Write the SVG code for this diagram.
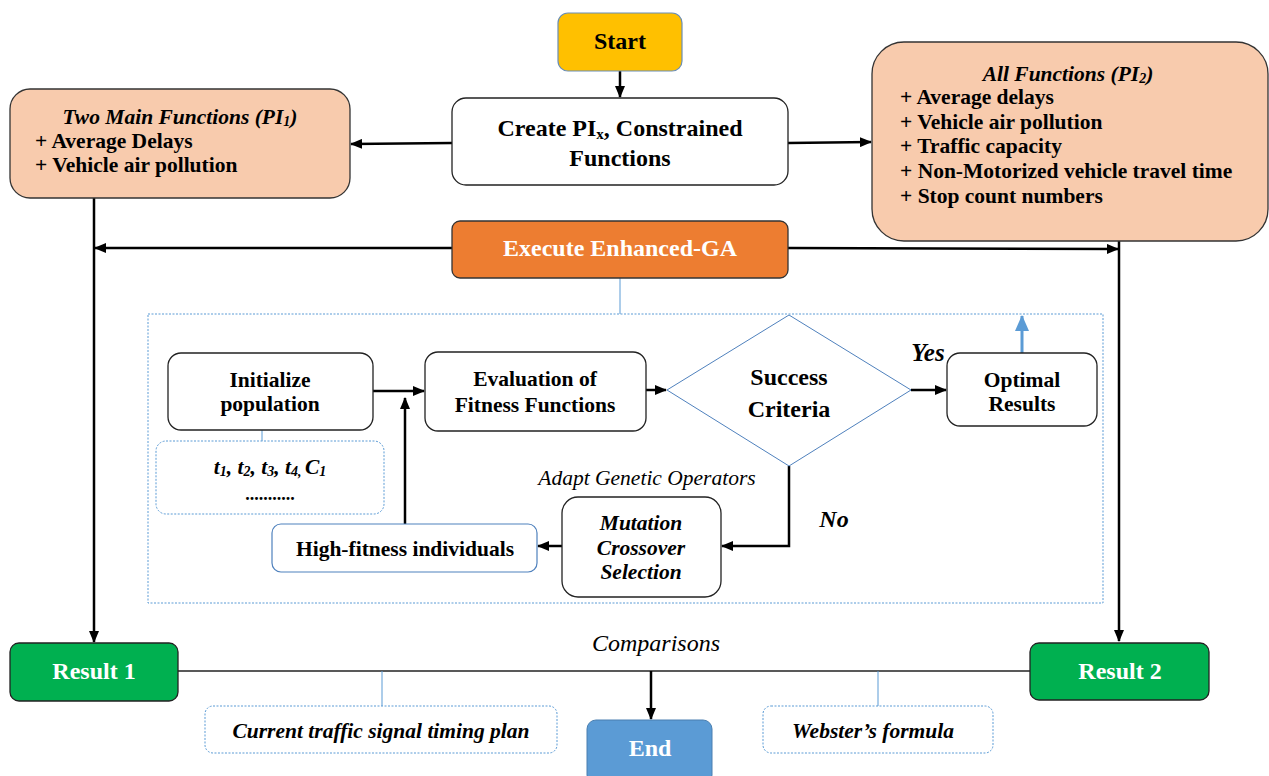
<svg xmlns="http://www.w3.org/2000/svg" width="1269" height="776" viewBox="0 0 1269 776">
<style>
.box{fill:#fff;stroke:#222;stroke-width:1.3}
.peach{fill:#F8CBAD;stroke:#333;stroke-width:1.3}
.dot{fill:#fff;stroke:#5B9BD5;stroke-width:1;stroke-dasharray:2 1.5}
.c{fill:none;stroke:#000;stroke-width:2.5}
.thin{fill:none;stroke:#5B9BD5;stroke-width:1}
</style>
<defs>
<marker id="ah" markerUnits="userSpaceOnUse" markerWidth="12" markerHeight="10" refX="11" refY="5" orient="auto">
<path d="M0,0 L12,5 L0,10 z" fill="#000"/>
</marker>
<marker id="ahb" markerUnits="userSpaceOnUse" markerWidth="16" markerHeight="14" refX="15" refY="7" orient="auto">
<path d="M0,0 L16,7 L0,14 z" fill="#5B9BD5"/>
</marker>
</defs>
<rect width="1269" height="776" fill="#fff"/>

<g id="connectors">
<line class="c" x1="620" y1="71" x2="620" y2="97" marker-end="url(#ah)"/>
<line class="c" x1="452" y1="143" x2="351" y2="144" marker-end="url(#ah)"/>
<line class="c" x1="788" y1="143" x2="871" y2="142" marker-end="url(#ah)"/>
<line class="c" x1="452" y1="248" x2="95" y2="248" marker-end="url(#ah)"/>
<line class="c" x1="788" y1="248" x2="1118" y2="249" marker-end="url(#ah)"/>
<line class="c" x1="94" y1="198" x2="94" y2="642" marker-end="url(#ah)"/>
<line class="c" x1="1119" y1="241" x2="1119" y2="641" marker-end="url(#ah)"/>
<line class="thin" x1="620" y1="278" x2="620" y2="314"/>
<line class="c" x1="373" y1="391" x2="424" y2="391" marker-end="url(#ah)"/>
<line class="c" x1="405" y1="524" x2="405" y2="398" marker-end="url(#ah)"/>
<line class="c" x1="646" y1="390" x2="666" y2="390" marker-end="url(#ah)"/>
<line class="c" x1="911" y1="390" x2="946" y2="390" marker-end="url(#ah)"/>
<polyline class="c" points="789,466 789,546 722,546" marker-end="url(#ah)"/>
<line class="c" x1="562" y1="546" x2="538" y2="546" marker-end="url(#ah)"/>
<line x1="1022" y1="353" x2="1022" y2="316" stroke="#5B9BD5" stroke-width="3" marker-end="url(#ahb)"/>
<line class="thin" x1="262" y1="430" x2="262" y2="441"/>
<line x1="178" y1="671" x2="1030" y2="671" stroke="#222" stroke-width="1.6"/>
<line class="c" x1="651" y1="671" x2="651" y2="719" marker-end="url(#ah)"/>
<line class="thin" x1="382" y1="671" x2="382" y2="706"/>
<line class="thin" x1="878" y1="671" x2="878" y2="706"/>
</g>

<g id="start">
<rect x="558" y="13" width="124" height="58" rx="10" fill="#FFC000" stroke="#6B8EB5" stroke-width="1.2"/>
<text font-family="Liberation Serif" font-weight="bold" x="620" y="49" text-anchor="middle" font-size="24">Start</text>
</g>

<g id="create">
<rect class="box" x="452" y="98" width="336" height="87" rx="14"/>
<text font-family="Liberation Serif" font-weight="bold" x="620" y="136" text-anchor="middle" font-size="24">Create PI<tspan font-size="15" dy="3">x</tspan><tspan dy="-3">, Constrained</tspan></text>
<text font-family="Liberation Serif" font-weight="bold" x="620" y="166" text-anchor="middle" font-size="24">Functions</text>
</g>

<g id="pi1">
<rect class="peach" x="10" y="89" width="340" height="109" rx="20"/>
<text font-family="Liberation Serif" font-weight="bold" font-style="italic" x="180" y="124" text-anchor="middle" font-size="21.5">Two Main Functions (PI<tspan font-size="14" dy="2">1</tspan><tspan dy="-2">)</tspan></text>
<text font-family="Liberation Serif" font-weight="bold" x="35" y="148" font-size="21.5">+ Average Delays</text>
<text font-family="Liberation Serif" font-weight="bold" x="35" y="172" font-size="21.5">+ Vehicle air pollution</text>
</g>

<g id="pi2">
<rect class="peach" x="872" y="42" width="396" height="199" rx="32"/>
<text font-family="Liberation Serif" font-weight="bold" font-style="italic" x="1068" y="81" text-anchor="middle" font-size="21.5">All Functions (PI<tspan font-size="14" dy="2">2</tspan><tspan dy="-2">)</tspan></text>
<text font-family="Liberation Serif" font-weight="bold" x="900" y="104" font-size="21.5">+ Average delays</text>
<text font-family="Liberation Serif" font-weight="bold" x="900" y="129" font-size="21.5">+ Vehicle air pollution</text>
<text font-family="Liberation Serif" font-weight="bold" x="900" y="153" font-size="21.5">+ Traffic capacity</text>
<text font-family="Liberation Serif" font-weight="bold" x="900" y="178" font-size="21.5">+ Non-Motorized vehicle travel time</text>
<text font-family="Liberation Serif" font-weight="bold" x="900" y="203" font-size="21.5">+ Stop count numbers</text>
</g>

<g id="execute">
<rect x="452" y="221" width="336" height="57" rx="8" fill="#ED7D31" stroke="#333" stroke-width="1.3"/>
<text font-family="Liberation Serif" font-weight="bold" fill="#fff" x="620" y="256" text-anchor="middle" font-size="24">Execute Enhanced-GA</text>
</g>

<g id="ga-frame">
<rect x="148" y="314" width="955" height="289" fill="none" stroke="#5B9BD5" stroke-width="1" stroke-dasharray="2 1.5"/>
</g>

<g id="initialize">
<rect class="box" x="168" y="353" width="205" height="77" rx="13"/>
<text font-family="Liberation Serif" font-weight="bold" x="270" y="387" text-anchor="middle" font-size="21.5">Initialize</text>
<text font-family="Liberation Serif" font-weight="bold" x="270" y="411" text-anchor="middle" font-size="21.5">population</text>
</g>

<g id="params">
<rect class="dot" x="156" y="441" width="228" height="73" rx="10"/>
<text font-family="Liberation Serif" font-weight="bold" font-style="italic" x="270" y="474" text-anchor="middle" font-size="21.5">t<tspan font-size="14" dy="2">1</tspan><tspan dy="-2">, t</tspan><tspan font-size="14" dy="2">2</tspan><tspan dy="-2">, t</tspan><tspan font-size="14" dy="2">3</tspan><tspan dy="-2">, t</tspan><tspan font-size="14" dy="2">4, </tspan><tspan dy="-2">C</tspan><tspan font-size="14" dy="2">1</tspan></text>
<text font-family="Liberation Serif" font-weight="bold" x="270" y="500" text-anchor="middle" font-size="18">...........</text>
</g>

<g id="evaluation">
<rect class="box" x="425" y="352" width="221" height="79" rx="13"/>
<text font-family="Liberation Serif" font-weight="bold" x="535" y="386" text-anchor="middle" font-size="21.5">Evaluation of</text>
<text font-family="Liberation Serif" font-weight="bold" x="535" y="412" text-anchor="middle" font-size="21.5">Fitness Functions</text>
</g>

<g id="success">
<polygon points="789,315 911,390 789,466 667,390" fill="#fff" stroke="#4F81BD" stroke-width="1"/>
<text font-family="Liberation Serif" font-weight="bold" x="789" y="385" text-anchor="middle" font-size="24">Success</text>
<text font-family="Liberation Serif" font-weight="bold" x="789" y="417" text-anchor="middle" font-size="24">Criteria</text>
</g>

<g id="optimal">
<rect class="box" x="947" y="353" width="150" height="73" rx="13"/>
<text font-family="Liberation Serif" font-weight="bold" x="1022" y="387" text-anchor="middle" font-size="21.5">Optimal</text>
<text font-family="Liberation Serif" font-weight="bold" x="1022" y="411" text-anchor="middle" font-size="21.5">Results</text>
</g>

<g id="labels">
<text font-family="Liberation Serif" font-weight="bold" font-style="italic" x="928" y="361" text-anchor="middle" font-size="25">Yes</text>
<text font-family="Liberation Serif" font-weight="bold" font-style="italic" x="834" y="527" text-anchor="middle" font-size="24">No</text>
<text font-family="Liberation Serif" font-style="italic" x="647" y="485" text-anchor="middle" font-size="21.5">Adapt Genetic Operators</text>
<text font-family="Liberation Serif" font-style="italic" x="656" y="651" text-anchor="middle" font-size="24">Comparisons</text>
</g>

<g id="operators">
<rect class="box" x="562" y="497" width="159" height="100" rx="16"/>
<text font-family="Liberation Serif" font-weight="bold" font-style="italic" x="641" y="530" text-anchor="middle" font-size="21.5">Mutation</text>
<text font-family="Liberation Serif" font-weight="bold" font-style="italic" x="641" y="555" text-anchor="middle" font-size="21.5">Crossover</text>
<text font-family="Liberation Serif" font-weight="bold" font-style="italic" x="641" y="579" text-anchor="middle" font-size="21.5">Selection</text>
</g>

<g id="highfitness">
<rect x="272" y="524" width="265" height="48" rx="9" fill="#fff" stroke="#4F81BD" stroke-width="1.2"/>
<text font-family="Liberation Serif" font-weight="bold" x="405" y="556" text-anchor="middle" font-size="21.5">High-fitness individuals</text>
</g>

<g id="result1">
<rect x="10" y="643" width="168" height="58" rx="9" fill="#00B050" stroke="#222" stroke-width="1.3"/>
<text font-family="Liberation Serif" font-weight="bold" fill="#fff" x="94" y="679" text-anchor="middle" font-size="24">Result 1</text>
</g>

<g id="result2">
<rect x="1030" y="643" width="179" height="57" rx="9" fill="#00B050" stroke="#222" stroke-width="1.3"/>
<text font-family="Liberation Serif" font-weight="bold" fill="#fff" x="1120" y="679" text-anchor="middle" font-size="24">Result 2</text>
</g>

<g id="end">
<rect x="587" y="720" width="125" height="64" rx="9" fill="#5B9BD5" stroke="#4A7FB0" stroke-width="1"/>
<text font-family="Liberation Serif" font-weight="bold" fill="#fff" x="650" y="756" text-anchor="middle" font-size="24">End</text>
</g>

<g id="current">
<rect class="dot" x="205" y="706" width="352" height="47" rx="8"/>
<text font-family="Liberation Serif" font-weight="bold" font-style="italic" x="381" y="738" text-anchor="middle" font-size="21.5">Current traffic signal timing plan</text>
</g>

<g id="webster">
<rect class="dot" x="763" y="706" width="230" height="47" rx="8"/>
<text font-family="Liberation Serif" font-weight="bold" font-style="italic" x="873" y="738" text-anchor="middle" font-size="21.5">Webster’s formula</text>
</g>
</svg>
